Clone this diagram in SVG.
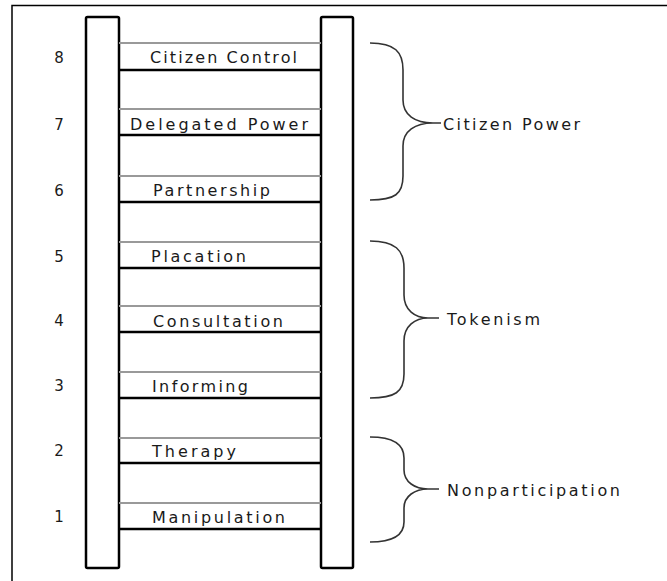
<svg xmlns="http://www.w3.org/2000/svg" width="667" height="581" viewBox="0 0 667 581">
<style>
.frame{fill:none;stroke:#000;stroke-width:1.5}
.rail{fill:#fff;stroke:#000;stroke-width:2.5}
.rtop{stroke:#999;stroke-width:1.8}
.rbot{stroke:#000;stroke-width:2.5}
.brace{fill:none;stroke:#333;stroke-width:1.6}
.lbl{font-family:"DejaVu Sans",sans-serif;font-size:16px;fill:#1a1a1a}
.num{font-family:"DejaVu Sans",sans-serif;font-size:15px;fill:#1a1a1a;text-anchor:middle}
</style>
<rect width="667" height="581" fill="#fff"/>
<path class="frame" d="M12,581 L12,5.5 L667,5.5"/>
<g id="connectors">
<path class="brace" d="M370,43 C395,43 403,52 403,70 L403,100 C403,115 415,123 433,123 L441,123 M433,123 C415,123 403,131 403,146 L403,176 C403,194 395,200 370,200"/>
<path class="brace" d="M370,241 C395,241 404,250 404,268 L404,295 C404,310 415,318 428,318 L439,318 M428,318 C415,318 404,326 404,341 L404,374 C404,392 395,398 370,398"/>
<path class="brace" d="M370,437 C392,437 404,444 404,458 L404,470 C404,482 415,489 428,489 L439,489 M428,489 C415,489 404,496 404,508 L404,522 C404,536 392,542 370,542"/>
</g>
<g id="ladder">
<rect id="rail-left" class="rail" x="86" y="17" width="33" height="551" rx="1.5"/>
<rect id="rail-right" class="rail" x="321" y="17" width="32" height="551" rx="1.5"/>
</g>
<g id="rung-8"><line class="rtop" x1="119" y1="43" x2="321" y2="43"/><line class="rbot" x1="119" y1="70" x2="321" y2="70"/><text class="num" x="59" y="63">8</text><text class="lbl" x="150" y="63" textLength="147" lengthAdjust="spacing">Citizen Control</text></g>
<g id="rung-7"><line class="rtop" x1="119" y1="109" x2="321" y2="109"/><line class="rbot" x1="119" y1="135" x2="321" y2="135"/><text class="num" x="59" y="130">7</text><text class="lbl" x="130" y="130" textLength="178" lengthAdjust="spacing">Delegated Power</text></g>
<g id="rung-6"><line class="rtop" x1="119" y1="176" x2="321" y2="176"/><line class="rbot" x1="119" y1="202" x2="321" y2="202"/><text class="num" x="59" y="196">6</text><text class="lbl" x="153" y="196" textLength="117" lengthAdjust="spacing">Partnership</text></g>
<g id="rung-5"><line class="rtop" x1="119" y1="242" x2="321" y2="242"/><line class="rbot" x1="119" y1="268" x2="321" y2="268"/><text class="num" x="59" y="262">5</text><text class="lbl" x="151" y="262" textLength="95" lengthAdjust="spacing">Placation</text></g>
<g id="rung-4"><line class="rtop" x1="119" y1="306" x2="321" y2="306"/><line class="rbot" x1="119" y1="332" x2="321" y2="332"/><text class="num" x="59" y="326">4</text><text class="lbl" x="153" y="327" textLength="130" lengthAdjust="spacing">Consultation</text></g>
<g id="rung-3"><line class="rtop" x1="119" y1="372" x2="321" y2="372"/><line class="rbot" x1="119" y1="398" x2="321" y2="398"/><text class="num" x="59" y="391">3</text><text class="lbl" x="152" y="392" textLength="96" lengthAdjust="spacing">Informing</text></g>
<g id="rung-2"><line class="rtop" x1="119" y1="438" x2="321" y2="438"/><line class="rbot" x1="119" y1="463" x2="321" y2="463"/><text class="num" x="59" y="456">2</text><text class="lbl" x="152" y="457" textLength="84" lengthAdjust="spacing">Therapy</text></g>
<g id="rung-1"><line class="rtop" x1="119" y1="503" x2="321" y2="503"/><line class="rbot" x1="119" y1="529" x2="321" y2="529"/><text class="num" x="59" y="522">1</text><text class="lbl" x="152" y="523" textLength="133" lengthAdjust="spacing">Manipulation</text></g>
<g id="group-citizen-power"><text class="lbl" x="443" y="130" textLength="137" lengthAdjust="spacing">Citizen Power</text></g>
<g id="group-tokenism"><text class="lbl" x="447" y="325" textLength="93" lengthAdjust="spacing">Tokenism</text></g>
<g id="group-nonparticipation"><text class="lbl" x="447" y="496" textLength="173" lengthAdjust="spacing">Nonparticipation</text></g>
</svg>
